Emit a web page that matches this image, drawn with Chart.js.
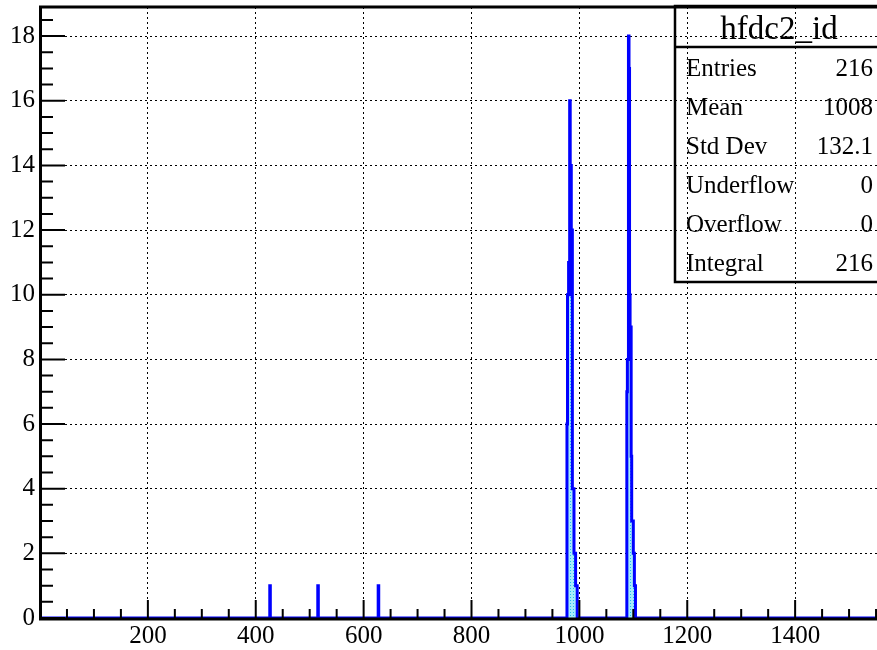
<!DOCTYPE html>
<html lang="en">
<head>
  <meta charset="UTF-8">
  <title>hfdc2_id</title>
  <script src="https://cdn.jsdelivr.net/npm/chart.js"></script>
  <style>
    html, body {
      margin: 0;
      padding: 0;
      background: #fff;
      overflow: hidden;
    }

    #wrap {
      position: relative;
      width: 877px;
      height: 650px;
      overflow: hidden;
    }

    #hist {
      position: absolute;
      left: 0;
      top: 0;
    }
  </style>
</head>
<body>
  <div id="wrap">
    <canvas id="hist" width="960" height="650"></canvas>
  </div>

  <script>
    // histogram hfdc2_id, unit-wide bins from 0 to 1600 (only filled bins listed)
    const binWidth = 1;
    const xMin = 0;
    const xMax = 1600;
    const yMin = 0;
    const yMax = 18.9;

    const binLow = [
      426, 515, 627,
      977, 978, 979, 980, 981, 982, 983, 984, 985, 986, 987, 988, 989, 990, 991, 992, 993, 994, 995,
      1088, 1089, 1090, 1091, 1092, 1093, 1094, 1095, 1096, 1097, 1098, 1099, 1100, 1101, 1102, 1103
    ];
    const binCount = [
      1, 1, 1,
      6, 10, 10, 11, 10, 16, 14, 14, 11, 12, 4, 4, 4, 2, 2, 2, 1, 1, 1,
      7, 8, 8, 18, 17, 10, 9, 9, 5, 3, 3, 3, 2, 2, 1, 1
    ];

    const xTickStep = 200;
    const yTickStep = 2;
    const yTickValues = [0, 2, 4, 6, 8, 10, 12, 14, 16, 18];

    const histName = "hfdc2_id";
    const statLabels = ["Entries", "Mean", "Std Dev", "Underflow", "Overflow", "Integral"];
    const statValues = ["216", "1008", "132.1", "0", "0", "216"];

    const serif = "'Liberation Serif', 'DejaVu Serif', serif";

    // step outline points built from the bins: each point's value holds until the next point
    const points = [{ x: xMin, y: 0 }];
    let edge = xMin;
    binLow.forEach((lo, i) => {
      if (lo > edge) points.push({ x: edge, y: 0 });
      points.push({ x: lo, y: binCount[i] });
      edge = lo + binWidth;
    });
    points.push({ x: edge, y: 0 });
    points.push({ x: xMax, y: 0 });

    const canvas = document.getElementById("hist");
    const ctx = canvas.getContext("2d");

    // light cyan dotted fill like the ROOT fill style
    function dotPattern() {
      const c = document.createElement("canvas");
      c.width = 3;
      c.height = 3;
      const g = c.getContext("2d");
      g.fillStyle = "#a6ecfb";
      g.fillRect(0, 0, 3, 3);
      g.fillStyle = "#22bdf2";
      g.fillRect(0, 0, 1, 1);
      return ctx.createPattern(c, "repeat");
    }

    // no extra room around the frame for tick labels
    function noScalePadding(s) {
      s.paddingTop = 0;
      s.paddingBottom = 0;
      s.paddingLeft = 0;
      s.paddingRight = 0;
    }

    // ticks inside the frame, frame lines and the stats box
    const rootFrame = {
      id: "rootFrame",
      afterDatasetsDraw(chart) {
        const { ctx, chartArea: a, scales: { x, y } } = chart;
        ctx.save();
        ctx.strokeStyle = "#000";
        ctx.lineWidth = 2;
        ctx.beginPath();
        for (let v = xMin; v <= xMax; v += xTickStep / 4) {
          const px = x.getPixelForValue(v);
          const len = v % xTickStep === 0 ? 18 : 9;
          ctx.moveTo(px, a.bottom);
          ctx.lineTo(px, a.bottom - len);
        }
        for (let v = yMin; v <= yMax; v += yTickStep / 4) {
          const py = y.getPixelForValue(v);
          const len = v % yTickStep === 0 ? 25 : 13;
          ctx.moveTo(a.left, py);
          ctx.lineTo(a.left + len, py);
        }
        ctx.stroke();

        ctx.lineWidth = 3;
        ctx.beginPath();
        ctx.moveTo(a.left + 0.5, a.bottom + 2.5);
        ctx.lineTo(a.left + 0.5, a.top);
        ctx.lineTo(a.right, a.top);
        ctx.moveTo(a.left, a.bottom + 1);
        ctx.lineTo(a.right, a.bottom + 1);
        ctx.stroke();
        ctx.restore();
      },
      afterDraw(chart) {
        const { ctx } = chart;
        const bx = 675, by = 6, bw = 208, bh = 276, titleH = 41;
        ctx.save();
        ctx.strokeStyle = "#000";
        ctx.lineWidth = 2.5;
        ctx.strokeRect(bx, by, bw, bh);
        ctx.beginPath();
        ctx.moveTo(bx, by + titleH);
        ctx.lineTo(bx + bw, by + titleH);
        ctx.stroke();

        ctx.fillStyle = "#000";
        ctx.textBaseline = "alphabetic";
        ctx.font = "33px " + serif;
        ctx.textAlign = "center";
        ctx.fillText(histName, bx + bw / 2, 39);

        ctx.font = "25px " + serif;
        statLabels.forEach((lab, i) => {
          const base = 76 + 39 * i;
          ctx.textAlign = "left";
          ctx.fillText(lab, bx + 11, base);
          ctx.textAlign = "right";
          ctx.fillText(statValues[i], bx + bw - 10, base);
        });
        ctx.restore();
      }
    };

    new Chart(ctx, {
      type: "line",
      data: {
        datasets: [
          {
            label: histName,
            data: points,
            stepped: "before",
            borderColor: "#0000ff",
            borderWidth: 3,
            backgroundColor: dotPattern(),
            fill: "origin",
            pointRadius: 0,
            clip: false
          }
        ]
      },
      options: {
        responsive: false,
        animation: false,
        events: [],
        layout: {
          autoPadding: false,
          padding: { top: 7, right: 57, bottom: 0, left: 0 }
        },
        plugins: {
          legend: { display: false },
          tooltip: { enabled: false }
        },
        scales: {
          x: {
            type: "linear",
            min: xMin,
            max: xMax,
            afterFit: (s) => { s.height = 32; noScalePadding(s); },
            ticks: {
              stepSize: xTickStep,
              maxRotation: 0,
              autoSkip: false,
              padding: 3,
              color: "#000",
              font: { family: serif, size: 25 },
              callback: (v) => (v === 0 ? "" : String(v))
            },
            grid: { color: "#000", lineWidth: 1, drawTicks: false },
            border: { display: false, dash: [2, 3] }
          },
          y: {
            min: yMin,
            max: yMax,
            afterFit: (s) => { s.width = 40; noScalePadding(s); },
            afterBuildTicks: (s) => {
              s.ticks = yTickValues.map((v) => ({ value: v }));
            },
            ticks: {
              padding: 5,
              color: "#000",
              font: { family: serif, size: 25 },
              callback: (v) => String(v)
            },
            grid: { color: "#000", lineWidth: 1, drawTicks: false },
            border: { display: false, dash: [2, 3] }
          }
        }
      },
      plugins: [rootFrame]
    });
  </script>
</body>
</html>
